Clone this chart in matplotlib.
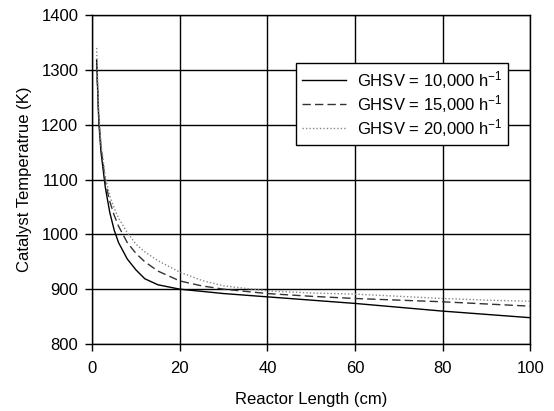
import matplotlib
matplotlib.use("Agg")
import matplotlib.pyplot as plt

plt.rcParams['font.family'] = ['Liberation Sans', 'DejaVu Sans']
plt.rcParams['mathtext.fontset'] = 'custom'
plt.rcParams['mathtext.rm'] = 'Liberation Sans'
plt.rcParams['mathtext.it'] = 'Liberation Sans'

length_cm = [1, 1.5, 2, 3, 4, 5, 6, 8, 10, 12, 15, 20, 25, 30, 40, 50, 60, 70, 80, 90, 100]
temp_10k = [1318, 1205, 1150, 1085, 1040, 1008, 985, 955, 935, 919, 908, 900, 896, 892, 886, 880, 874, 867, 860, 854, 848]
temp_15k = [1310, 1210, 1160, 1095, 1060, 1035, 1015, 985, 965, 950, 933, 915, 906, 900, 892, 887, 883, 880, 877, 873, 869]
temp_20k = [1340, 1220, 1165, 1105, 1070, 1048, 1030, 1003, 982, 968, 952, 931, 916, 906, 897, 893, 891, 887, 883, 880, 878]
labels = ["GHSV = 10,000 h$^{-1}$", "GHSV = 15,000 h$^{-1}$", "GHSV = 20,000 h$^{-1}$"]

fig = plt.figure(figsize=(5.54, 4.11), dpi=100)
ax = fig.add_axes([0.1665, 0.163, 0.7905, 0.8005])

ax.plot(length_cm, temp_10k, color='black', lw=1.0, ls='-', label=labels[0])
ax.plot(length_cm, temp_15k, color='#333333', lw=1.0, ls=(0, (6, 3)), label=labels[1])
ax.plot(length_cm, temp_20k, color='#888888', lw=1.0, ls=(0, (1, 1.5)), label=labels[2])

ax.set_xlim(0, 100)
ax.set_ylim(800, 1400)
ax.set_xticks(range(0, 101, 20))
ax.set_yticks(range(800, 1401, 100))
ax.grid(True, color='black', lw=1.0)
ax.set_axisbelow(True)
for s in ax.spines.values():
    s.set_color('black')
    s.set_linewidth(1.0)
ax.tick_params(direction='out', length=5, width=1, labelsize=12)
ax.tick_params(axis='x', pad=7)
ax.tick_params(axis='y', pad=5)
ax.set_xlabel("Reactor Length (cm)", fontsize=12, labelpad=12)
ax.set_ylabel("Catalyst Temperatrue (K)", fontsize=12, labelpad=7)

leg = ax.legend(loc='upper right', bbox_to_anchor=(0.9495, 0.854), fontsize=12,
                frameon=True, fancybox=False, edgecolor='black', framealpha=1,
                handlelength=2.6, handletextpad=0.66, borderpad=0.35, labelspacing=0.13,
                borderaxespad=0)
leg.get_frame().set_linewidth(1.0)

fig.savefig("out.png", dpi=100)
